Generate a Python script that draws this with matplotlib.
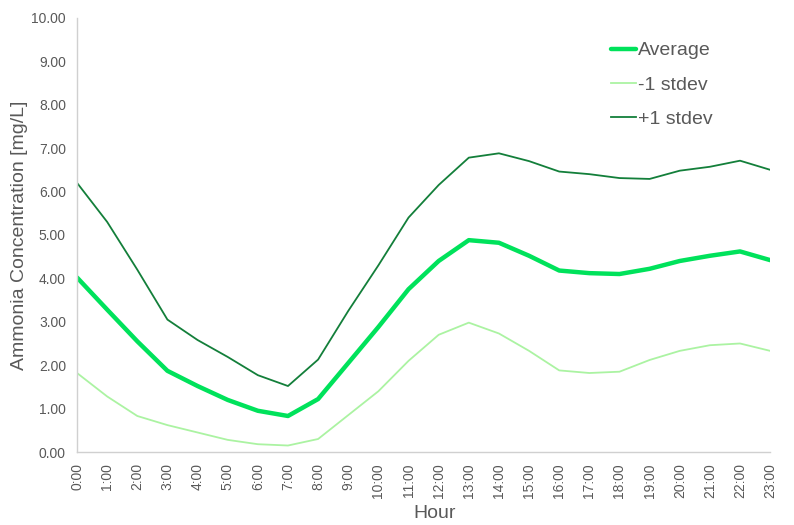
import matplotlib.pyplot as plt

# hourly ammonia concentration [mg/L]
hours = ["%d:00" % h for h in range(24)]
average = [4.02, 3.28, 2.55, 1.87, 1.52, 1.20, 0.95, 0.83, 1.22, 2.05, 2.88,
           3.75, 4.40, 4.88, 4.82, 4.52, 4.18, 4.12, 4.10, 4.22, 4.40, 4.52,
           4.62, 4.42]
minus_sd = [1.82, 1.28, 0.83, 0.62, 0.45, 0.28, 0.18, 0.15, 0.30, 0.85, 1.40,
            2.10, 2.70, 2.98, 2.73, 2.33, 1.88, 1.82, 1.85, 2.12, 2.33, 2.46,
            2.50, 2.33]
plus_sd = [6.20, 5.30, 4.20, 3.05, 2.58, 2.19, 1.77, 1.52, 2.13, 3.25, 4.30,
           5.40, 6.15, 6.78, 6.88, 6.70, 6.46, 6.40, 6.31, 6.29, 6.48, 6.57,
           6.71, 6.50]

plt.rcParams['font.family'] = ['Liberation Sans', 'DejaVu Sans']
grey = '#595959'

fig = plt.figure(figsize=(7.94, 5.25), dpi=100)
ax = fig.add_axes([0.097, 0.139, 0.873, 0.827])

x = list(range(len(hours)))
ax.plot(x, average, color='#00E25B', lw=3.2, label='Average', solid_capstyle='round')
ax.plot(x, minus_sd, color='#ABF3A2', lw=1.3, label='-1 stdev')
ax.plot(x, plus_sd, color='#137F3A', lw=1.3, label='+1 stdev')

ax.set_xlim(0, 23)
ax.set_ylim(0, 10)
ax.set_xticks(x)
ax.set_xticklabels(hours, rotation=90)
ax.set_yticks(range(0, 11))
ax.set_yticklabels(["%.2f" % v for v in range(0, 11)])
ax.tick_params(axis='both', length=0, labelsize=10, labelcolor=grey, pad=8)

for s in ['top', 'right']:
    ax.spines[s].set_visible(False)
for s in ['left', 'bottom']:
    ax.spines[s].set_color('#D0D0D0')
    ax.spines[s].set_linewidth(1)

ax.set_xlabel('Hour', fontsize=14, color=grey)
ax.xaxis.set_label_coords(0.516, -0.122)
ax.set_ylabel('Ammonia Concentration [mg/L]', fontsize=14, color=grey)
ax.yaxis.set_label_coords(-0.07, 0.5)

leg = ax.legend(loc='upper left', bbox_to_anchor=(0.745, 0.985), frameon=False,
                fontsize=14, handlelength=1.3, handletextpad=0.1,
                labelspacing=0.85, labelcolor=grey)

plt.savefig('out.png', dpi=100)
